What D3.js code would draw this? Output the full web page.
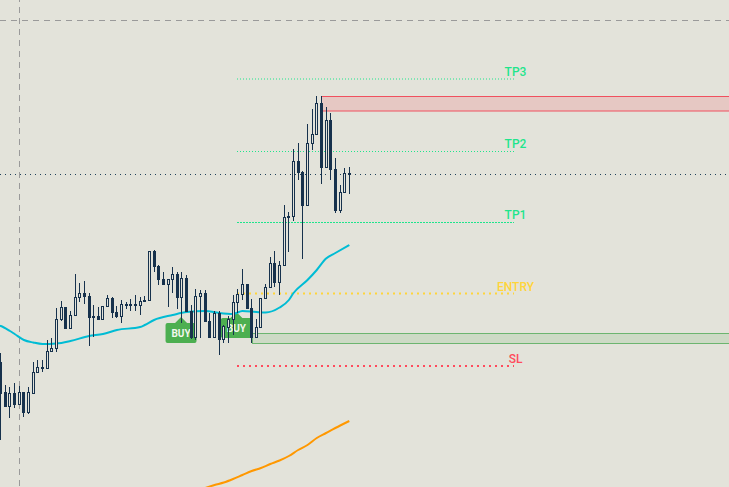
<!DOCTYPE html>
<html><head><meta charset="utf-8">
<script src="https://cdn.jsdelivr.net/npm/d3@7/dist/d3.min.js"></script>
<style>html,body{margin:0;padding:0;background:#e3e3da;overflow:hidden}svg{display:block}</style>
</head><body><div id="c"></div>
<script>
// Values are chart levels (axis has no labels; larger = lower on the chart)
const highs =[353,385,387,383,386,392,387,362,360,360,340,338,308,301,307,311,274,283,281,293,305,307,306,295,297,306,300,302,299,295,297,296,251,250,265,272,279,267,272,272,275,305,289,290,290,313,311,311,325,316,295,289,269,284,299,319,298,284,257,251,261,205,212,149,143,171,124,109,96,96,107,113,158,185,168,167];
const lows  =[440,407,418,408,404,417,414,393,373,372,368,351,352,321,329,328,315,302,304,346,337,319,319,306,318,318,323,309,311,311,315,301,300,272,285,285,307,293,309,323,311,339,340,338,321,337,337,355,343,343,335,313,300,308,343,337,327,298,287,287,295,265,252,221,180,259,205,150,134,184,167,180,213,213,192,194];
const opens =[362,392,406,393,404,392,412,393,372,368,368,351,348,319,307,328,315,297,293,296,316,316,319,306,298,312,316,304,304,304,305,300,300,251,266,279,284,279,274,297,278,311,337,296,293,321,337,313,339,327,319,302,294,284,308,337,327,298,287,263,282,265,217,216,161,172,205,143,134,103,167,120,169,210,192,173];
const closes=[393,406,393,404,392,412,392,372,367,367,351,348,319,307,328,315,297,293,296,317,317,319,306,298,312,316,304,305,305,305,301,301,251,266,279,284,279,274,297,278,311,337,296,293,321,337,313,339,326,319,302,294,284,308,337,327,298,287,263,282,265,217,216,161,172,205,143,134,103,167,120,169,210,192,173,174];

const emaIndex=[-1,0,2,3,5,7,9,12,15,19,22,25,30,31,33,37,40,44,47,50,52,55,57,60,62,63,66,68,70,72,75];
const emaLevel=[325,326,331,334,340,342.5,344,343.5,341,336,334,330,327,325,320,315,312,311,313,314,311,312,312.5,307.5,300,293,280,270,258.5,253,245];
const slowIndex=[44,46,48,50,52,54,56,58,60,62,64,66,68,70,72,75];
const slowLevel=[488,485,482.5,479,475,471,468,464,460.5,456,450,445,438,433,428,421];

const targetNames=["TP3","TP2","TP1","ENTRY","SL"];
const targetLevels=[79,151.5,222.5,293.5,366];
const targetLabelLevels=[76,148,219,290.5,363];
const zoneTops=[96.5,333.5];
const zoneBottoms=[111,343.5];
const zoneStarts=[69,54];
const buyIndex=[38.8,50.7];
const buyLevel=[317,312];
const lastLevel=174.5, crossLevel=20.5, crossIndex=3.95;

const W=729,H=487;
const x=d3.scaleLinear().domain([0,75]).range([0.7,349.3]);
const y=d3.scaleLinear().domain([0,487]).range([0,487]);
const svg=d3.select("#c").append("svg").attr("width",W).attr("height",H);
svg.append("rect").attr("width",W).attr("height",H).attr("fill","#e3e3da");
const px=v=>Math.round(v)+0.5;

// crosshair & last price
svg.append("line").attr("x1",0).attr("x2",W).attr("y1",y(crossLevel)).attr("y2",y(crossLevel))
  .attr("stroke","#9a9a9a").attr("stroke-width",1).attr("stroke-dasharray","6 5");
svg.append("line").attr("x1",px(x(crossIndex))).attr("x2",px(x(crossIndex))).attr("y1",0).attr("y2",H)
  .attr("stroke","#9a9a9a").attr("stroke-width",1).attr("stroke-dasharray","6 5").attr("stroke-dashoffset",4);
svg.append("line").attr("x1",0).attr("x2",W).attr("y1",y(lastLevel)).attr("y2",y(lastLevel))
  .attr("stroke","#1f3f58").attr("stroke-width",1).attr("stroke-dasharray","1 4");

// zones
const zoneFill=["#e6c8c3","#cddac5"], zoneStroke=["#f0505e","#6cb56f"];
zoneTops.forEach((t,i)=>{
  svg.append("rect").attr("x",px(x(zoneStarts[i]))).attr("y",y(t)).attr("width",W).attr("height",y(zoneBottoms[i])-y(t))
    .attr("fill",zoneFill[i]).attr("stroke",zoneStroke[i]).attr("stroke-width",1);
});

// target lines & labels
const tColor=["#1fe58c","#1fe58c","#1fe58c","#ffd53a","#ff4b5c"];
const tWidth=[1,1,1,2,2], tDash=["1 2","1 2","2 1","2 4","2 4"];
targetLevels.forEach((l,i)=>{
  svg.append("line").attr("x1",237).attr("x2",514).attr("y1",y(l)).attr("y2",y(l))
    .attr("stroke",tColor[i]).attr("stroke-width",tWidth[i]).attr("stroke-dasharray",tDash[i]);
  svg.append("text").attr("x",515.5).attr("y",y(targetLabelLevels[i])).attr("text-anchor","middle")
    .attr("font-family","Roboto, sans-serif").attr("font-weight",500).attr("font-size",12).attr("fill",tColor[i]).text(targetNames[i]);
});

// BUY markers
buyIndex.forEach((b,i)=>{
  const cx=x(b), ty=y(buyLevel[i]);
  const w=31,h=26,s=6;
  const g=svg.append("g");
  g.append("path").attr("d",`M${cx},${ty}L${cx+s},${ty+s}H${cx+w/2-2}q2,0 2,2V${ty+h-2}q0,2 -2,2H${cx-w/2+2}q-2,0 -2,-2V${ty+s+2}q0,-2 2,-2H${cx-s}Z`)
    .attr("fill","#4caf50");
  g.append("text").attr("x",cx).attr("y",ty+19.5).attr("text-anchor","middle")
    .attr("font-family","Roboto, sans-serif").attr("font-weight",700).attr("font-size",10).attr("fill","#f2f7ee").text("BUY");
});

// moving averages
const line=d3.line().curve(d3.curveMonotoneX);
svg.append("path").attr("d",line(emaIndex.map((d,i)=>[x(d),y(emaLevel[i])])))
  .attr("fill","none").attr("stroke","#00bcd4").attr("stroke-width",2);
svg.append("path").attr("d",line(slowIndex.map((d,i)=>[x(d),y(slowLevel[i])])))
  .attr("fill","none").attr("stroke","#ff9800").attr("stroke-width",2);

// candles
const ink="#17324d";
const g=svg.append("g").attr("shape-rendering","crispEdges");
d3.range(highs.length).forEach(i=>{
  const cx=Math.floor(x(i))+0.5;
  const top=Math.min(opens[i],closes[i]), bot=Math.max(opens[i],closes[i]);
  const down=closes[i]>opens[i];
  g.append("line").attr("x1",cx).attr("x2",cx).attr("y1",y(highs[i])).attr("y2",y(lows[i])).attr("stroke",ink);
  g.append("rect").attr("x",cx-1).attr("y",y(top)+0.5).attr("width",2).attr("height",Math.max(1,y(bot)-y(top)))
    .attr("fill",down?ink:"#e3e3da").attr("stroke",ink);
});
</script></body></html>
